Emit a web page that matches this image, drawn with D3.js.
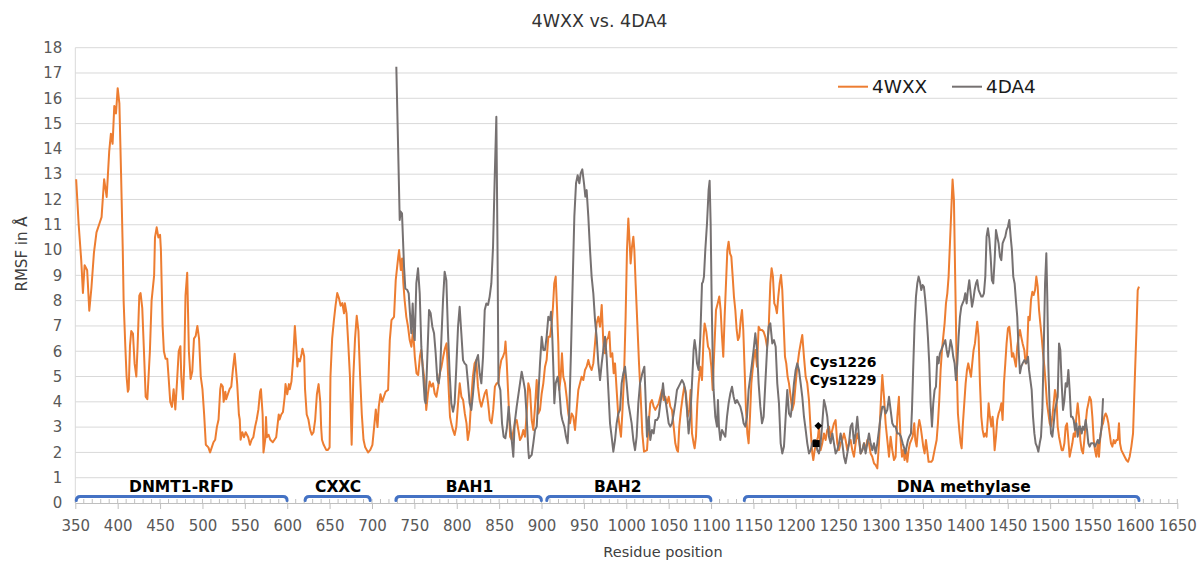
<!DOCTYPE html>
<html>
<head>
<meta charset="utf-8">
<title>4WXX vs. 4DA4</title>
<script src="https://cdn.jsdelivr.net/npm/d3@7"></script>
<style>
  body { margin: 0; background: #fff; }
  svg { display: block; font-family: "DejaVu Sans", Verdana, sans-serif; }
</style>
</head>
<body>
<div id="chart"></div>
<script>
// RMSF per residue, 4WXX
const wxxResidues = [
  351, 354, 357, 359, 361, 364, 366.5, 369, 372, 375, 379, 381, 384, 387, 390, 392, 394, 396, 398, 400,
  402, 404, 406, 407, 409, 410.5, 412, 413, 414.5, 416, 418, 420, 422, 423.5, 425.5, 427, 429, 431, 433, 435,
  438, 440, 443, 444, 446, 448, 450, 451, 453, 454.5, 456.5, 458.5, 460, 462, 464, 466, 468, 470, 472, 474,
  475, 477, 478.5, 480, 482, 484, 486, 488, 490, 492, 494, 496, 498, 500, 502, 504, 507, 509, 511, 513,
  515, 517, 519, 521, 522, 524, 525, 527, 528, 530, 532, 534, 536, 538, 539, 541, 543, 544, 545, 547,
  549, 551, 554, 556, 558, 560, 562, 564, 566, 568, 569, 571, 572, 574, 575, 576, 578, 580, 583, 585,
  587, 590, 591, 593, 595, 597, 598, 600, 602, 603, 605, 607, 609, 611, 612, 613, 615, 617, 618, 620,
  621, 623, 625, 627, 629, 631, 633, 635, 637, 639, 640, 641, 643, 646, 648, 650, 651, 653, 655, 657,
  659, 661, 663, 665, 667, 668, 670, 672, 674, 676, 678, 680, 682, 684, 686, 688, 690, 692, 695.5, 698,
  700.5, 702.5, 704.5, 706.5, 708, 710, 712, 714, 716,
  719, 721, 723, 726, 728, 731, 732, 734, 735.5, 737, 738.5, 740.5, 742.5, 744.5, 746.5, 748.5, 750.5, 752.5, 754.5, 756.5,
  758, 760, 762, 764, 766, 768, 770, 772, 774, 776, 778, 780, 782, 784, 786, 788, 789, 790.5, 792, 793.5,
  795.5, 797.5, 799.5, 801.5, 803.5, 805.5, 807.5, 809.5, 811.5, 813, 815, 817, 819, 821, 823, 825, 827, 829, 831, 833,
  835, 837, 839, 841, 843, 845, 847, 849, 850.5, 852.5, 854.5, 856.5, 857.5, 859, 861, 863, 865, 867, 869,
  870.7, 872.6, 874.6, 876.6, 878.5, 880.5, 882.5, 884.4, 886.4, 888.4, 890.3, 892.3, 894.3, 896.2, 898.2, 900.2, 902.1, 904.1, 906, 908,
  910, 912, 913.5, 915, 916.7, 918.2, 919.8, 921, 922.6, 924.1, 925.7, 927.7, 929.6, 931.6, 933.6, 935.5, 937.5, 939.5, 941.4, 943.4,
  945.4, 947.3, 949.3, 951.3, 953.2, 955.2, 957.2, 959.1, 961.1, 963.1, 965, 967, 969, 971, 972.1, 973.3, 974.9, 976.8, 978.8, 980,
  981.5, 983.5, 985.1, 986.7, 988.6, 990.6, 992.6, 993.7, 995.3, 997.3, 999.2, 1000.8, 1002.4, 1004, 1005.1, 1006.7, 1008.3, 1009.5, 1011, 1013,
  1015, 1017, 1018.9, 1020.9,
  1024.4, 1026.4, 1028.3, 1030.3, 1032.3, 1034.2, 1036.2, 1038.2, 1040.1, 1042.1, 1044.1, 1046, 1048, 1050, 1051.9, 1053.9, 1055.9, 1057.8, 1059.8, 1061,
  1062.5, 1064.5, 1066.5, 1068.4, 1070.4, 1072.4, 1074.3, 1075.9, 1077.5, 1079.4, 1080.6, 1082.2, 1083.8, 1085.3, 1087.3, 1089.3, 1091.2, 1092.4, 1094.4, 1096.4,
  1098.3, 1100.3, 1101.9, 1103.8, 1105.8, 1107.8, 1109.7, 1111.3, 1112.9, 1114.4, 1116, 1117.6, 1119.2, 1120.7, 1122.3, 1123.9, 1125.5, 1127, 1128.6, 1130.2,
  1131.7, 1133.3, 1134.9, 1136.5, 1138, 1139.6, 1141.2, 1142.8, 1144.3, 1145.9, 1147.5, 1149, 1150.6, 1152.2, 1154.2, 1156.1, 1158.1, 1160.1, 1162, 1164,
  1166, 1167.9, 1169.9, 1171.4,
  1173, 1174.6, 1176.2, 1177.7, 1179.3, 1180.9, 1182.5, 1184, 1185.6, 1187.2, 1188.7, 1190.3, 1191.9, 1193.9, 1195.8, 1197.8, 1199.8, 1201.7, 1203.7, 1205.7,
  1207.6, 1209.6, 1211.6, 1213.5, 1215.5, 1217.5, 1219.4, 1220.6, 1222.2, 1224.1, 1226.1, 1227.3, 1229.2, 1231.2, 1233.2, 1235.1, 1237.1, 1239.1, 1241, 1243,
  1245, 1246.9, 1248.9, 1250.9, 1252.8, 1254.8, 1256.8, 1258.7, 1260.7, 1262.7, 1264.6, 1266.6, 1268.6, 1270.5, 1272.5, 1274.5, 1276.4, 1278.4, 1280.4, 1282.3,
  1284.3, 1286.3, 1288.2, 1290.2, 1292.2, 1294.1, 1296.1, 1298.1, 1300, 1302, 1304, 1305.9, 1307.9, 1309.9, 1311.8, 1313.8, 1315.8, 1317.7, 1319.7, 1321.6,
  1322.4, 1323.6, 1325.2, 1326.8, 1328.3, 1329.9, 1331.5, 1333, 1334.6, 1336.2, 1337.8, 1339.7, 1340.9, 1342.5, 1344, 1345.6, 1347.2, 1348.8, 1350.3, 1351.9,
  1353.5, 1355, 1356.6, 1358.2, 1359.8, 1361.4, 1362.9, 1364.5, 1366.1, 1367.6, 1369.2, 1370.8, 1372.4, 1373.9, 1375.5, 1377.1, 1378.7, 1380.2, 1381.8, 1383.4,
  1384.9, 1386.5, 1388.1, 1389.7, 1391.2, 1392.8, 1394.4, 1395.6, 1397.1, 1398.7, 1400.3, 1401.9, 1403.4, 1405, 1406.6, 1408.1, 1409.7, 1411.3, 1412.9, 1414,
  1415.6, 1417.2, 1418.8, 1420.3, 1421.9, 1423.5, 1425, 1426.6, 1427.4, 1429, 1430.6, 1432.1, 1433.3, 1434.5, 1436.1, 1437.6, 1439.2, 1440.8, 1442.4, 1443.9,
  1445.5, 1447.1, 1448.6, 1450.2, 1451.8, 1453.4, 1454.9, 1456.5, 1458.1, 1459.6, 1461.2, 1462.8, 1464.4, 1465.9, 1467.5, 1469.5,
  1471.1, 1472.7, 1474.3, 1475.9, 1477.4, 1479, 1480.6, 1482.2, 1483.7, 1485.3, 1486.9, 1488.4, 1490, 1491.6, 1493.2, 1494.7, 1496.3, 1497.9, 1499.5, 1501,
  1502.6, 1504.2, 1505.7, 1507.3, 1508.9, 1510.5, 1512, 1513.6, 1515.2, 1516.8, 1518.3, 1519.9, 1521.5, 1523, 1524.6, 1526.2, 1527.8, 1529.3, 1530.9, 1532.5,
  1534.1, 1535.6, 1537.2, 1538.8, 1540.3, 1541.9, 1543.5, 1545.1, 1546.6, 1548.2, 1549.8, 1551.4, 1552.9, 1554.5, 1556.1, 1557.6, 1559.2, 1560.8, 1562.4, 1563.9,
  1565.5, 1567.1, 1568.7, 1570.2, 1571.8, 1573.4, 1575, 1576.5, 1578.1, 1579.7, 1581.2, 1582.4, 1584, 1586, 1587.9, 1589.9, 1591.9, 1593.8, 1595.8, 1597.8,
  1599.7, 1601.7, 1603.3, 1604.8
];
const wxxRmsf = [
  12.8, 11.0, 9.6, 8.3, 9.4, 9.2, 7.6, 8.5, 9.9, 10.7, 11.1, 11.3, 12.8, 12.1, 13.9, 14.6, 14.2, 15.7, 15.4, 16.4,
  15.8, 13.0, 10.0, 8.0, 6.2, 5.0, 4.4, 4.5, 6.2, 6.8, 6.7, 5.5, 5.0, 6.2, 8.2, 8.3, 7.7, 6.0, 4.2, 4.1,
  6.0, 8.0, 9.0, 10.5, 10.9, 10.5, 10.6, 10.0, 7.0, 6.0, 5.7, 5.7, 5.0, 4.0, 3.8, 4.5, 3.7, 4.8, 6.0, 6.2,
  5.0, 4.1, 5.5, 8.2, 9.1, 6.0, 4.9, 5.2, 6.5, 6.6, 7.0, 6.5, 5.0, 4.5, 3.5, 2.3, 2.2, 2.0, 2.2, 2.4,
  2.5, 3.0, 3.3, 4.5, 4.7, 4.6, 4.0, 4.4, 4.1, 4.3, 4.5, 4.6, 5.3, 5.9, 5.5, 4.7, 3.5, 3.3, 2.5, 2.8,
  2.6, 2.8, 2.6, 2.3, 2.5, 2.6, 3.0, 3.3, 3.7, 4.4, 4.5, 3.5, 2.0, 2.5, 3.4, 2.6, 2.7, 2.5, 2.4, 2.5,
  2.6, 3.5, 3.3, 3.5, 3.6, 4.2, 4.7, 4.3, 4.7, 4.5, 4.8, 5.7, 7.0, 6.0, 5.4, 5.7, 5.6, 5.9, 6.1, 5.8,
  4.5, 3.5, 3.3, 2.9, 2.7, 2.8, 3.3, 4.3, 4.7, 4.0, 3.0, 2.5, 2.3, 2.1, 2.1, 2.2, 5.0, 6.5, 7.2, 7.8,
  8.3, 8.1, 7.8, 7.9, 7.5, 7.9, 7.5, 6.3, 5.0, 2.3, 5.0, 6.5, 7.4, 6.8, 5.0, 3.5, 2.5, 2.2, 2.0, 2.1,
  2.3, 3.0, 3.7, 3.0, 3.8, 4.3, 4.0, 4.2, 4.4,
  4.47, 6.44, 7.23, 7.36, 8.81, 9.74, 10.0, 9.21, 9.67, 8.68, 8.02, 7.36, 6.97, 6.44, 6.18, 6.84, 5.78, 5.13, 5.06, 5.78,
  6.05, 5.39, 4.86, 3.68, 4.33, 4.8, 4.6, 4.73, 4.33, 4.2, 4.6, 5.13, 5.39, 5.78, 6.11, 6.31, 5.65, 4.47, 3.41, 3.15,
  2.89, 2.69, 3.02, 3.94, 4.73, 4.2, 4.07, 3.54, 3.15, 2.49, 2.89, 4.07, 4.99, 5.52, 5.65, 4.6, 4.07, 3.81, 4.07, 4.33,
  4.47, 3.94, 3.28, 3.15, 3.68, 4.6, 4.73, 4.73, 5.26, 5.65, 5.78, 5.98, 6.38, 5.52, 4.07, 2.62, 2.49, 2.89, 3.2,
  3.28, 2.89, 2.49, 2.62, 2.89, 2.62, 3.54, 4.73, 4.47, 3.28, 2.89, 3.81, 4.86, 3.54, 3.68, 4.33, 4.73, 5.39, 5.65, 6.57,
  6.57, 7.1, 7.76, 8.68, 8.95, 7.76, 6.31, 4.47, 4.99, 5.92, 4.99, 4.73, 4.2, 3.54, 3.15, 3.54, 3.41, 2.89, 3.68, 4.47,
  4.73, 4.99, 4.86, 5.26, 5.39, 5.65, 5.39, 5.26, 5.52, 6.31, 7.1, 7.36, 6.97, 7.83, 6.97, 6.05, 5.92, 6.44, 6.57, 6.77,
  5.78, 5.92, 5.13, 5.52, 4.47, 3.41, 2.89, 2.62, 3.54, 4.99, 7.36, 10.0, 11.25, 10.26, 9.47, 10.13, 10.53, 10.0, 8.68, 7.1,
  5.52, 4.2, 2.75, 2.03,
  2.09, 3.15, 3.94, 4.07, 3.81, 3.68, 3.81, 3.94, 4.2, 4.47, 4.07, 4.2, 3.94, 4.2, 3.81, 3.68, 3.02, 2.36, 2.09, 2.03,
  3.02, 3.68, 4.2, 4.6, 4.33, 3.41, 3.68, 4.47, 2.75, 2.36, 2.16, 2.62, 3.94, 4.73, 5.39, 4.86, 6.57, 7.1, 6.77, 6.18,
  6.05, 5.39, 4.47, 6.05, 7.63, 7.89, 8.16, 7.63, 6.57, 5.78, 7.36, 8.68, 10.0, 10.33, 9.87, 9.74, 8.95, 8.16, 7.63, 6.84,
  6.44, 6.57, 7.23, 7.63, 6.84, 5.26, 3.68, 2.75, 2.36, 3.41, 4.73, 5.26, 5.78, 6.05, 5.39, 6.97, 6.84, 6.84, 6.77, 6.57,
  6.18, 6.84, 8.68, 9.28,
  8.95, 7.89, 7.76, 7.5, 8.16, 8.68, 9.01, 8.42, 7.1, 5.78, 5.52, 4.99, 4.73, 4.2, 3.68, 3.94, 4.73, 5.39, 5.92, 6.31,
  6.64, 5.78, 4.99, 4.73, 4.07, 2.89, 1.96, 1.7, 2.09, 2.36, 2.62, 3.02, 2.09, 2.36, 2.75, 2.49, 2.89, 3.02, 2.62, 2.89,
  3.15, 3.28, 2.36, 2.09, 2.36, 2.49, 2.75, 2.49, 2.09, 2.36, 2.49, 2.09, 1.83, 2.36, 2.75, 2.49, 1.96, 2.09, 2.36, 2.09,
  2.49, 2.36, 1.96, 1.83, 1.57, 1.5, 1.37, 2.36, 3.81, 5.06, 4.2, 3.15, 2.49, 1.83, 2.62, 2.09, 1.7, 1.83, 3.41, 4.2,
  3.41, 2.49, 1.83, 2.09, 1.7, 2.09, 1.63, 2.09, 2.36, 2.49, 2.62, 3.15, 2.49, 2.23, 2.89, 3.28, 3.02, 2.62, 2.23, 1.96,
  2.49, 2.09, 1.63, 1.63, 1.63, 1.7, 1.96, 2.23, 2.49, 3.15, 4.07, 5.26, 6.05, 6.57, 7.1, 7.89, 8.29, 8.95, 10.26, 11.58,
  12.79, 11.98, 8.68, 5.52, 3.54, 2.89, 2.36, 2.16, 3.15, 3.94, 4.73, 5.26, 5.52, 5.26, 4.99, 5.52, 6.05, 6.31, 6.84, 7.17,
  6.57, 4.73, 3.41, 2.89, 2.62, 2.75, 2.62, 3.41, 3.94, 3.41, 3.02, 3.41, 2.89, 2.09, 2.62, 3.28, 3.54, 3.68, 3.94, 3.28,
  4.73, 5.52, 6.31, 6.9, 6.97, 6.44, 5.78, 5.92, 5.65, 5.39, 6.18, 6.57, 6.84, 6.57, 6.31, 6.05,
  5.52, 5.78, 7.36, 7.23, 8.02, 8.35, 8.22, 8.42, 8.95, 8.55, 7.63, 7.1, 6.57, 5.92, 5.39, 4.73, 3.94, 3.54, 3.15, 3.02,
  3.41, 3.94, 4.47, 4.2, 3.02, 2.62, 2.36, 2.09, 2.09, 2.36, 3.02, 3.15, 2.49, 1.83, 2.09, 2.36, 2.75, 2.62, 3.41, 3.94,
  3.41, 2.49, 2.09, 1.96, 2.49, 3.15, 3.68, 3.94, 4.2, 4.07, 3.41, 2.49, 2.09, 1.83, 2.36, 1.83, 2.62, 3.02, 3.15, 3.41,
  3.54, 3.41, 3.15, 2.75, 2.36, 2.23, 2.49, 2.36, 2.49, 2.49, 3.15, 2.36, 2.09, 1.96, 1.83, 1.7, 1.63, 1.83, 2.23, 2.75,
  4.73, 6.71, 8.42, 8.55
];

// RMSF per residue, 4DA4
const da4Residues = [
  728.7, 732.7, 733.8, 735.4, 736.6, 737.8, 739.3, 741.7, 743.3, 744.8, 746.4, 748, 749.6, 750.4, 752.3, 754.3, 756.3, 758.2, 760.2, 762.2,
  763.3, 765.3, 767.3, 769.2, 771.2, 773.2, 775.1, 777.1, 778.7, 780.2, 781.8, 783.8, 785.7, 787.7, 789.7, 791.6, 793.6, 795.6, 797.5, 799.5,
  801.5, 803.4, 805.4, 807.4, 809.3, 811.3, 813.3, 815.2, 817.2, 819.2, 821.1, 823.1, 825.1, 827, 829, 831, 833, 834.9, 836.9, 838.8,
  840.8, 842.8, 844.7, 846.7, 848, 849.2, 851.4, 853.4, 855.3, 857.3, 859.3, 861.2, 862.8, 864.8, 866.7, 868.3, 870.7,
  874.6, 876.6, 878.5, 880.5, 882.5, 884.4, 885.2, 888.4, 890.3, 892.3, 894.3, 896.2, 898.2, 900.2, 902.1, 904.1, 906, 908, 910, 911.2,
  912.7, 913.9, 915.1, 916.7, 919, 921, 923, 924.5, 926.9, 928.9, 930.8, 932.8, 934.8, 936.7, 938.7, 940.7, 942.6, 944.6, 946.2, 948.1,
  950.1, 951.7, 953.2, 955.2, 957.2, 959.1, 961.1, 963.1, 965, 967, 969, 971, 972.9, 974.9, 976.8, 978.8, 980.8, 982.7, 984.7, 986.7,
  988.6, 990.6, 992.6, 994.5, 996.5, 998.5, 1000.4, 1002.4, 1004.4, 1006.3, 1008.3, 1010.3, 1012.2, 1014.2, 1016.2, 1018.9, 1021.3,
  1022.4, 1024.4, 1026.4, 1028.3, 1030.3, 1032.3, 1034.2, 1036.2, 1038.2, 1040.1, 1042.1, 1043.3, 1044.8, 1046.8, 1048.4, 1050, 1051.9, 1053.9, 1055.9, 1057.8,
  1059.8, 1061.8, 1063.7, 1065.7, 1067.7, 1069.6, 1071.6, 1073.5, 1075.5, 1077.5, 1079.4, 1080.6, 1082.2, 1083.4, 1085.3, 1087.3, 1089.3, 1090.5, 1091.6, 1093.2,
  1095.2, 1097.1, 1098.3, 1099.5, 1100.7, 1101.9, 1103, 1105, 1107, 1108.1, 1109.3, 1110.9, 1112.9, 1114.8, 1116.8, 1118.8, 1120.7, 1122.7, 1124.7, 1126.6,
  1128.6, 1130.6, 1132.5, 1134.5, 1136.5, 1138.4, 1140.4, 1142.4, 1144.3, 1146.3, 1148.3, 1150.2, 1152.2, 1154.2, 1156.1, 1158.1, 1160.1, 1162, 1164, 1166,
  1167.9, 1169.9,
  1172.2, 1174.2, 1176.2, 1178.1, 1180.1, 1182.1, 1184, 1186, 1188, 1189.9, 1191.9, 1193.9, 1195.8, 1197.8, 1199.8, 1201.7, 1203.7, 1205.7, 1207.6, 1209.6,
  1211.6, 1213.5, 1215.5, 1217.5, 1219.4, 1221.4, 1223.3, 1225.3, 1227.3, 1229.2, 1231.2, 1233.2, 1235.1, 1237.1, 1239.1, 1241, 1243, 1245, 1246.9, 1248.9,
  1250.9, 1252.8, 1254.8, 1256.8, 1258.7, 1260.7, 1262.7, 1264.6, 1266.6, 1268.6, 1270.5, 1272.5, 1274.5, 1276.4, 1278.4, 1280.4, 1282.3, 1284.3, 1286.3, 1288.2,
  1290.2, 1292.2, 1294.1, 1296.1, 1298.1, 1300, 1302, 1304, 1305.9, 1307.9, 1309.9, 1311.8, 1313.8, 1315.8, 1317.7, 1319.7,
  1322, 1324, 1326, 1327.9, 1329.1, 1330.7, 1332.3, 1333.8, 1335.8, 1337, 1338.5, 1340.1, 1341.7, 1343.3, 1344.8, 1346.4, 1348, 1349.6, 1351.1, 1352.7,
  1354.3, 1355.8, 1357.4, 1359, 1360.6, 1362.1, 1363.7, 1365.3, 1366.9, 1368.4, 1370, 1371.6, 1373.1, 1374.7, 1376.3, 1377.9, 1379.4, 1381, 1382.6, 1384.2,
  1385.7, 1387.3, 1388.9, 1390.5, 1392, 1393.6, 1395.2, 1396.7, 1398.3, 1399.9, 1401.5, 1403, 1404.6, 1406.2, 1407.8, 1409.3, 1410.9, 1412.5, 1414, 1415.6,
  1417.2, 1418.8, 1420.3, 1421.9, 1423.5, 1425, 1426.6, 1428.2, 1429.8, 1431.3, 1432.9, 1434.5, 1436.1, 1437.6, 1439.2, 1440.8, 1442.4, 1443.9, 1445.5, 1447.1,
  1448.6, 1450.2, 1451.8, 1453.4, 1454.9, 1456.5, 1458.1, 1459.6, 1461.2, 1462.8, 1464.4, 1465.9, 1467.5, 1469.5,
  1471.9, 1473.9, 1475.1, 1476.7, 1478.2, 1479.8, 1481.4, 1482.9, 1484.5, 1486.1, 1487.7, 1489.2, 1490.8, 1492.4, 1494, 1495.5, 1496.7, 1497.9, 1499.5, 1501,
  1502.6, 1504.2, 1505.7, 1507.3, 1508.9, 1510.5, 1512, 1513.6, 1515.2, 1516.8, 1518.3, 1519.9, 1521.5, 1523, 1524.6, 1526.2, 1527.8, 1529.3, 1530.9, 1532.5,
  1534.1, 1535.6, 1537.2, 1538.8, 1540.3, 1541.9, 1543.5, 1545.1, 1546.6, 1548.2, 1549.8, 1551.4, 1552.9, 1554.5, 1556.1, 1557.6, 1559.2, 1560.8, 1562.4
];
const da4Rmsf = [
  17.25, 11.19, 11.52, 11.45, 10.4, 9.34, 8.48, 8.42, 8.29, 7.5, 6.71, 7.89, 6.57, 6.44, 8.68, 9.28, 8.29, 6.18, 5.13, 4.07,
  3.94, 5.78, 7.63, 7.5, 6.97, 6.71, 5.92, 4.86, 4.73, 5.13, 6.44, 8.02, 9.14, 8.81, 6.71, 5.13, 3.94, 3.61, 3.94, 5.39,
  6.97, 7.76, 6.71, 5.65, 5.52, 5.45, 4.73, 3.94, 3.68, 4.33, 5.13, 5.65, 5.85, 5.13, 4.73, 5.78, 7.63, 7.89, 7.83, 8.16,
  8.68, 10.13, 12.77, 15.27, 10.4, 4.73, 4.47, 3.15, 2.62, 2.56, 3.02, 3.81, 3.15, 2.49, 1.83, 3.15, 3.81,
  4.73, 5.19, 4.86, 4.47, 3.41, 2.09, 1.77, 1.9, 2.36, 2.89, 3.02, 4.2, 5.52, 6.57, 6.05, 6.05, 6.57, 7.36, 7.23, 7.56,
  6.57, 5.39, 3.94, 4.73, 4.99, 4.47, 3.54, 3.28, 3.02, 2.62, 2.36, 3.68, 6.05, 8.68, 11.32, 12.64, 12.96, 12.64, 13.03, 13.19,
  12.64, 12.11, 12.37, 11.32, 10.0, 8.95, 8.29, 7.23, 6.57, 5.52, 4.86, 5.52, 6.05, 6.57, 5.78, 4.47, 3.15, 2.62, 2.03, 2.49,
  3.15, 3.54, 3.68, 4.73, 5.13, 5.39, 4.73, 3.94, 3.54, 3.15, 2.49, 2.09, 2.62, 3.94, 4.73, 5.13, 5.39,
  4.47, 2.62, 3.41, 2.49, 2.89, 2.75, 3.28, 3.28, 3.41, 3.94, 4.33, 4.73, 4.2, 3.94, 3.54, 3.15, 3.02, 3.15, 3.54, 3.94,
  4.47, 4.6, 4.73, 4.86, 4.73, 4.47, 3.68, 2.75, 3.41, 4.73, 6.05, 6.44, 6.05, 5.52, 5.26, 6.57, 8.68, 8.75, 8.95, 10.0,
  11.05, 12.37, 12.74, 11.05, 8.02, 5.78, 4.47, 3.41, 3.02, 4.07, 3.02, 2.49, 2.89, 2.75, 2.62, 3.41, 3.94, 4.33, 4.6, 4.2,
  3.94, 4.07, 3.94, 3.81, 3.54, 3.15, 3.02, 3.41, 4.47, 4.99, 5.52, 6.05, 6.71, 6.05, 4.73, 3.81, 3.15, 3.41, 4.73, 6.05,
  6.97, 7.1,
  6.31, 6.44, 6.18, 4.73, 3.94, 2.36, 1.96, 2.23, 3.41, 4.47, 3.54, 3.41, 3.94, 4.73, 5.26, 5.52, 5.26, 4.73, 4.2, 3.41,
  2.89, 2.36, 1.96, 2.09, 2.36, 2.49, 2.49, 2.09, 1.96, 2.36, 3.15, 4.07, 3.81, 3.41, 2.62, 2.36, 2.75, 2.36, 1.96, 2.09,
  2.36, 2.75, 2.36, 1.83, 1.57, 1.96, 2.36, 3.02, 3.15, 2.36, 2.75, 3.41, 2.62, 1.96, 2.09, 2.36, 1.96, 2.36, 2.75, 2.36,
  2.09, 2.36, 1.96, 2.36, 2.89, 3.41, 3.81, 3.81, 3.54, 3.68, 4.2, 3.68, 3.15, 3.02, 3.02, 2.75,
  2.75, 2.62, 2.36, 2.16, 1.96, 2.23, 2.49, 2.62, 2.75, 3.68, 5.39, 7.1, 8.16, 8.68, 8.95, 8.75, 8.42, 8.62, 8.55, 8.02,
  7.36, 6.57, 5.52, 3.94, 3.02, 3.94, 4.47, 4.6, 5.78, 5.52, 5.92, 6.05, 6.18, 6.31, 6.44, 6.05, 5.78, 6.05, 6.44, 6.18,
  5.78, 5.52, 4.86, 5.52, 6.57, 7.36, 7.76, 7.89, 8.02, 8.29, 7.89, 8.42, 8.81, 8.29, 7.76, 8.02, 8.42, 8.68, 8.81, 8.42,
  8.29, 8.16, 8.16, 8.29, 8.95, 10.53, 10.86, 10.46, 9.74, 8.81, 8.68, 9.6, 10.79, 10.53, 10.26, 9.74, 9.6, 10.26, 10.4, 10.53,
  10.79, 10.92, 11.19, 10.53, 10.0, 8.95, 8.68, 8.02, 7.36, 6.05, 5.13, 5.39, 5.52, 5.65,
  5.52, 5.78, 5.26, 4.86, 4.47, 3.41, 2.75, 2.36, 2.23, 2.03, 2.36, 2.62, 3.68, 6.05, 8.68, 9.87, 8.02, 5.39, 3.68, 2.75,
  2.62, 3.15, 3.68, 3.94, 4.2, 6.31, 6.05, 4.73, 3.68, 4.07, 4.73, 4.6, 5.26, 4.47, 3.41, 3.41, 3.28, 2.89, 3.15, 2.62,
  3.02, 3.02, 2.75, 3.02, 2.89, 3.28, 2.89, 2.36, 2.23, 2.36, 2.36, 2.36, 2.23, 2.36, 2.49, 2.36, 2.62, 3.02, 4.14
];

// Protein domains shown as brackets under the curves
const domainNames = ['DNMT1-RFD', 'CXXC', 'BAH1', 'BAH2', 'DNA methylase'];
const domainStart = [350, 620, 727, 905, 1138];
const domainEnd = [601, 699, 901, 1101, 1606];
const domainLabelAt = [475, 660, 815, 990, 1398];

// Marked cysteines
const markerNames = ['Cys1226', 'Cys1229'];
const markerResidue = [1226.5, 1224];
const markerRmsf = [3.05, 2.35];

// Axis ticks
const xTicks = d3.range(350, 1651, 50);
const xMinorTicks = d3.range(350, 1651, 10);
const yTicks = d3.range(0, 19, 1);

const seriesNames = ['4WXX', '4DA4'];
const seriesColors = ['#ed7d31', '#767171'];

document.addEventListener('DOMContentLoaded', () => {
    const width = 1199, height = 562;
    const plot = { left: 75.3, right: 1177.3, top: 47.7, bottom: 503 };

    const svg = d3.select('#chart')
        .append('svg')
        .attr('width', width)
        .attr('height', height);

    const x = d3.scaleLinear().domain([350, 1650]).range([plot.left, plot.right]);
    const y = d3.scaleLinear().domain([0, 18]).range([plot.bottom, plot.top]);

    // Horizontal grid lines
    svg.append('g')
        .selectAll('line')
        .data(yTicks.filter(v => v > 0))
        .join('line')
        .attr('x1', plot.left).attr('x2', plot.right)
        .attr('y1', d => y(d)).attr('y2', d => y(d))
        .attr('stroke', '#d9d9d9').attr('stroke-width', 1);

    // Vertical axis line
    svg.append('line')
        .attr('x1', plot.left).attr('x2', plot.left)
        .attr('y1', plot.top).attr('y2', plot.bottom)
        .attr('stroke', '#d9d9d9');

    // Y tick labels
    const yAxis = svg.append('g')
        .attr('transform', `translate(${plot.left},0)`)
        .call(d3.axisLeft(y).tickValues(yTicks).tickSize(0).tickPadding(13));
    yAxis.select('.domain').remove();
    yAxis.selectAll('text')
        .attr('font-family', '"DejaVu Sans", Verdana, sans-serif')
        .attr('font-size', 15).attr('fill', '#595959');

    // X axis (plain integers, no thousands separator)
    const xAxis = svg.append('g')
        .attr('transform', `translate(0,${plot.bottom})`)
        .call(d3.axisBottom(x).tickValues(xTicks).tickFormat(d3.format('d'))
            .tickSizeInner(6).tickSizeOuter(0).tickPadding(11));
    xAxis.select('.domain').attr('stroke', '#bfbfbf');
    xAxis.selectAll('.tick line').attr('stroke', '#bfbfbf');
    xAxis.selectAll('text')
        .attr('font-family', '"DejaVu Sans", Verdana, sans-serif')
        .attr('font-size', 15).attr('fill', '#595959');

    // Minor ticks (pointing up into the plot)
    svg.append('g')
        .selectAll('line')
        .data(xMinorTicks)
        .join('line')
        .attr('x1', d => x(d)).attr('x2', d => x(d))
        .attr('y1', plot.bottom - 4).attr('y2', plot.bottom)
        .attr('stroke', '#bfbfbf');

    // Series lines
    const line = d3.line().x(d => x(d[0])).y(d => y(d[1]));
    const series = [d3.zip(wxxResidues, wxxRmsf), d3.zip(da4Residues, da4Rmsf)];
    series.forEach((pts, i) => {
        svg.append('path')
            .datum(pts)
            .attr('d', line)
            .attr('fill', 'none')
            .attr('stroke', seriesColors[i])
            .attr('stroke-width', 2)
            .attr('stroke-linejoin', 'round');
    });

    // Domain brackets
    const by = y(0.26);
    const domains = domainNames.map((name, i) => ({
        name, start: domainStart[i], end: domainEnd[i], at: domainLabelAt[i]
    }));
    svg.append('g')
        .selectAll('path')
        .data(domains)
        .join('path')
        .attr('d', d => {
            const x0 = x(d.start) + 1, x1 = x(d.end) - 1;
            return `M${x0},${by + 4} Q${x0},${by} ${x0 + 4},${by} L${x1 - 4},${by} Q${x1},${by} ${x1},${by + 4}`;
        })
        .attr('fill', 'none')
        .attr('stroke', '#4472c4')
        .attr('stroke-width', 3)
        .attr('stroke-linecap', 'round');

    svg.append('g')
        .selectAll('text')
        .data(domains)
        .join('text')
        .attr('x', d => x(d.at))
        .attr('y', by - 4)
        .attr('text-anchor', 'middle')
        .attr('font-size', 15.5)
        .attr('font-weight', 'bold')
        .attr('fill', '#000')
        .text(d => d.name);

    // Cysteine markers
    svg.append('path')
        .attr('d', d3.symbol(d3.symbolSquare, 30)())
        .attr('transform', `translate(${x(markerResidue[0])},${y(markerRmsf[0])}) rotate(45)`)
        .attr('fill', '#000');
    svg.append('path')
        .attr('d', d3.symbol(d3.symbolSquare, 49)())
        .attr('transform', `translate(${x(markerResidue[1])},${y(markerRmsf[1])})`)
        .attr('fill', '#000');

    const cysLabel = svg.append('text')
        .attr('x', x(1216.5))
        .attr('y', y(5.36))
        .attr('font-size', 14)
        .attr('font-weight', 'bold')
        .attr('fill', '#000');
    markerNames.forEach((name, i) => {
        cysLabel.append('tspan')
            .attr('x', x(1216.5))
            .attr('dy', i === 0 ? 0 : 17.5)
            .text(name);
    });

    // Legend
    const legendX = [838, 952];
    seriesNames.forEach((name, i) => {
        svg.append('line')
            .attr('x1', legendX[i]).attr('x2', legendX[i] + 30)
            .attr('y1', 86.7).attr('y2', 86.7)
            .attr('stroke', seriesColors[i]).attr('stroke-width', 2);
        svg.append('text')
            .attr('x', legendX[i] + 34)
            .attr('y', 93.3)
            .attr('font-size', 18.4)
            .attr('fill', '#1a1a1a')
            .text(name);
    });

    // Titles
    svg.append('text')
        .attr('x', width / 2).attr('y', 26.5)
        .attr('text-anchor', 'middle')
        .attr('font-size', 17.5)
        .attr('fill', '#333')
        .text('4WXX vs. 4DA4');

    svg.append('text')
        .attr('x', 663).attr('y', 557)
        .attr('text-anchor', 'middle')
        .attr('font-size', 14.5)
        .attr('fill', '#404040')
        .text('Residue position');

    svg.append('text')
        .attr('transform', `translate(27,254) rotate(-90)`)
        .attr('text-anchor', 'middle')
        .attr('font-size', 15)
        .attr('fill', '#404040')
        .text('RMSF in Å');
});
</script>
</body>
</html>
